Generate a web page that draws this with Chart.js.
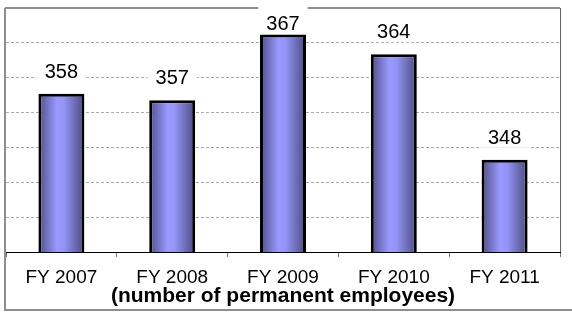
<!DOCTYPE html>
<html>
<head>
<meta charset="utf-8">
<script src="https://cdn.jsdelivr.net/npm/chart.js@4/dist/chart.umd.min.js"></script>
<style>
    html, body { margin: 0; padding: 0; background: #fff; }
    #wrap { width: 572px; height: 312px; position: relative; }
</style>
</head>
<body>
<div id="wrap"><canvas id="chart"></canvas></div>
<script>
const categories = ['FY 2007', 'FY 2008', 'FY 2009', 'FY 2010', 'FY 2011'];
const employees = [358, 357, 367, 364, 348];
const axisMin = 334;
const axisMax = 371;
const gridCount = 8;
const axisTitle = '(number of permanent employees)';

const FONT = "'Liberation Sans', Arial, sans-serif";
const barRatio = 0.415;

// horizontal shading of each bar, computed from the category scale
function barFill(context) {
    const chart = context.chart;
    const x = chart.scales.x;
    if (!x || context.dataIndex === undefined) return '#9999ff';
    const center = x.getPixelForValue(context.dataIndex);
    const half = (x.width / categories.length) * barRatio / 2;
    if (!isFinite(center) || !isFinite(half) || half <= 0) return '#9999ff';
    const g = chart.ctx.createLinearGradient(center - half, 0, center + half, 0);
    g.addColorStop(0, '#4e4e88');
    g.addColorStop(0.4, '#9999ff');
    g.addColorStop(0.55, '#9595f8');
    g.addColorStop(1, '#4a4a7e');
    return g;
}

const framePlugin = {
    id: 'frame',
    beforeDatasetsDraw(chart) {
        const {ctx, chartArea} = chart;
        ctx.save();
        ctx.strokeStyle = '#8e8e8e';
        ctx.lineWidth = 2;
        ctx.beginPath();
        ctx.moveTo(5, chartArea.top);
        ctx.lineTo(chartArea.right, chartArea.top);
        ctx.moveTo(5, chartArea.top);
        ctx.lineTo(5, 310);
        ctx.lineTo(chart.width, 310);
        ctx.stroke();
        ctx.strokeStyle = '#666';
        ctx.lineWidth = 1;
        ctx.beginPath();
        ctx.moveTo(Math.round(chartArea.right) + 0.5, chartArea.top);
        ctx.lineTo(Math.round(chartArea.right) + 0.5, chartArea.bottom);
        ctx.stroke();
        ctx.restore();
    }
};

const labelPlugin = {
    id: 'valueLabels',
    afterDatasetsDraw(chart) {
        const ctx = chart.ctx;
        const meta = chart.getDatasetMeta(0);
        ctx.save();
        ctx.font = '20px ' + FONT;
        ctx.textAlign = 'center';
        ctx.textBaseline = 'alphabetic';
        meta.data.forEach((bar, i) => {
            const text = String(employees[i]);
            const w = ctx.measureText(text).width;
            const base = Math.max(bar.y - 16, 30);
            ctx.fillStyle = '#fff';
            ctx.fillRect(bar.x - w / 2 - 8, base - 23, w + 16, 27);
            ctx.fillStyle = '#000';
            ctx.fillText(text, bar.x, base);
        });
        ctx.restore();
    }
};

new Chart(document.getElementById('chart'), {
    type: 'bar',
    data: {
        labels: categories,
        datasets: [{
            data: employees,
            backgroundColor: barFill,
            borderColor: '#000',
            borderWidth: 3,
            borderSkipped: false,
            barPercentage: barRatio,
            categoryPercentage: 1
        }]
    },
    options: {
        responsive: true,
        maintainAspectRatio: false,
        animation: false,
        layout: {padding: {left: 6, right: 12, top: 8, bottom: 0}},
        plugins: {
            legend: {display: false},
            tooltip: {enabled: false}
        },
        scales: {
            x: {
                grid: {offset: true, drawOnChartArea: false, tickLength: 5, color: '#777'},
                border: {color: '#000', width: 1},
                ticks: {color: '#000', font: {family: FONT, size: 19}, padding: 9},
                title: {
                    display: true,
                    text: axisTitle,
                    color: '#000',
                    font: {family: FONT, size: 21, weight: 'bold'},
                    padding: {top: 0, bottom: 3}
                },
                afterFit(scale) { scale.height = 60; }
            },
            y: {
                min: axisMin,
                max: axisMax,
                ticks: {display: false, count: gridCount},
                grid: {color: '#aaa', drawTicks: false},
                border: {display: false, dash: [3, 2]},
                afterFit(scale) { scale.width = 0; }
            }
        }
    },
    plugins: [framePlugin, labelPlugin]
});
</script>
</body>
</html>
